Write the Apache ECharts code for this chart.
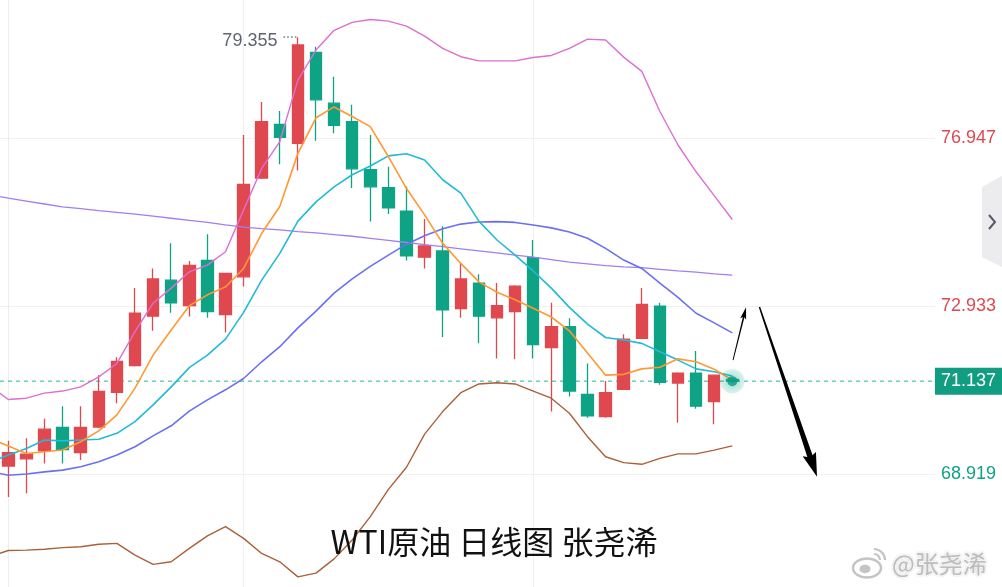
<!DOCTYPE html>
<html><head><meta charset="utf-8">
<script src="https://cdn.jsdelivr.net/npm/echarts@6/dist/echarts.min.js"></script>
<style>html,body{margin:0;padding:0;background:#fff}#c{width:1002px;height:587px}</style>
</head><body><div id="c"></div>
<script>
// ---- data (candle index 0..40; line arrays start at index -1) ----
const opens  = [69.11,69.28,69.47,70.03,69.43,70.04,70.87,71.51,72.69,73.55,72.94,74.02,72.73,73.63,75.99,77.27,76.82,78.99,77.78,77.34,76.19,75.76,75.20,74.10,74.25,72.87,73.48,72.65,72.80,74.09,71.94,72.44,70.82,70.29,70.94,72.16,72.93,71.09,71.33,70.65,71.18];
const closes = [69.43,69.39,69.99,69.50,70.03,70.89,71.61,72.76,73.58,73.01,73.90,72.80,73.71,75.84,77.34,76.96,79.17,77.86,77.25,76.21,75.78,75.28,74.13,74.37,72.84,73.58,72.69,72.94,73.41,72.01,72.44,70.90,70.31,70.86,72.14,72.97,71.11,71.33,70.54,71.28,71.137];
const lows   = [68.37,68.46,69.17,69.17,69.25,70.02,70.61,71.49,72.34,72.77,72.68,72.65,72.30,73.40,75.97,76.32,76.17,76.88,77.06,75.75,74.95,75.13,74.02,73.83,72.19,72.65,72.04,71.68,71.66,71.68,70.41,70.77,70.26,70.26,70.93,72.15,71.05,70.14,70.48,70.11,71.10];
const highs  = [69.71,69.77,70.24,70.54,70.54,71.28,71.71,73.36,73.83,74.43,74.01,74.65,73.73,77.02,77.81,77.59,79.355,79.13,78.41,77.74,77.02,76.26,75.79,75.01,74.84,73.97,73.69,73.48,73.43,74.51,73.01,72.64,71.56,71.14,72.26,73.36,73.01,71.35,71.86,71.29,71.22];

const ma5    = [69.76,69.59,69.41,69.45,69.49,69.69,69.95,70.33,70.97,71.76,72.36,72.94,73.20,73.39,73.83,74.67,75.31,76.58,77.43,77.69,77.46,77.22,76.50,75.74,75.11,74.43,73.95,73.51,73.26,73.08,72.88,72.67,72.34,71.81,71.28,71.30,71.43,71.47,71.67,71.60,71.42,71.16];
const ma10   = [69.20,69.37,69.53,69.73,69.71,69.73,69.75,69.89,70.17,70.57,71.00,71.46,71.76,72.14,72.78,73.55,74.19,74.96,75.42,75.78,76.07,76.28,76.52,76.57,76.42,75.95,75.63,74.96,74.51,74.15,73.77,73.36,72.90,72.50,72.18,72.12,72.04,71.84,71.64,71.43,71.36,71.26];
const ma20   = [68.98,68.89,68.92,68.97,69.01,69.09,69.21,69.37,69.57,69.83,70.07,70.42,70.69,70.93,71.20,71.60,71.96,72.41,72.81,73.24,73.58,73.88,74.15,74.41,74.61,74.78,74.89,74.94,74.95,74.93,74.87,74.80,74.70,74.55,74.31,74.03,73.83,73.48,73.14,72.76,72.53,72.29];
const ma60   = [75.59,75.51,75.44,75.37,75.30,75.26,75.21,75.17,75.13,75.08,75.03,74.98,74.93,74.87,74.82,74.78,74.75,74.71,74.68,74.64,74.60,74.55,74.50,74.45,74.40,74.35,74.30,74.25,74.20,74.15,74.10,74.04,73.98,73.94,73.90,73.87,73.85,73.81,73.77,73.74,73.70,73.67];
const bollUp = [71.02,70.70,70.73,70.85,70.90,71.00,71.24,71.56,72.32,73.00,73.36,73.75,73.91,74.23,75.23,76.22,76.86,78.33,79.05,79.52,79.71,79.78,79.74,79.62,79.38,79.09,78.89,78.79,78.79,78.79,78.87,78.92,79.09,79.31,79.29,78.88,78.54,77.58,76.78,76.14,75.57,75.00];
const bollDn = [66.95,67.09,67.10,67.12,67.16,67.18,67.24,67.26,66.98,66.76,66.82,67.14,67.44,67.66,67.38,67.02,66.82,66.46,66.55,66.89,67.34,67.90,68.55,69.08,69.87,70.41,70.86,71.07,71.10,71.07,70.90,70.73,70.37,69.81,69.33,69.19,69.15,69.29,69.40,69.40,69.49,69.59];

const yTickLabels = [76.947, 72.933, 68.919];
const xGridAt = [13, 29];
const lastPrice = 71.137;
const peakIndex = 16;
const titleText = 'WTI原油 日线图 张尧浠';
const watermarkText = '@张尧浠';
// hand-drawn arrows: [x1, y1, x2, y2] in data space
const arrows = [[40.04, 71.64, 40.76, 72.90], [41.50, 72.91, 44.68, 68.85]];

// ---- build ----
const candleData = opens.map((o, i) => [i, o, closes[i], lows[i], highs[i]]);
const toPairs = arr => arr.map((v, i) => [i - 1, v]);

const UP = '#e0484f', DOWN = '#0fa386', CUR = '#1fb592';
const xMin = -0.4586, xMax = 51.199, yMin = 66.218, yMax = 80.245;

function lineSeries(name, arr, color, width) {
  return { name, type: 'line', data: toPairs(arr), symbol: 'none', clip: true, silent: true,
    lineStyle: { color, width }, z: 3 };
}

const arrowStyles = [
  { w0: 0.9, w1: 1.6, hw: 6, hl: 10 },
  { w0: 1.4, w1: 5.5, hw: 14, hl: 22 }
];

const chart = echarts.init(document.getElementById('c'), null, { renderer: 'canvas' });
chart.setOption({
  animation: false,
  backgroundColor: '#ffffff',
  grid: { left: 0, right: 67, top: 0, bottom: 0, containLabel: false, outerBoundsMode: 'none' },
  xAxis: {
    type: 'value', min: xMin, max: xMax,
    axisLine: { show: false }, axisLabel: { show: false },
    axisTick: { show: false, customValues: xGridAt },
    splitLine: { show: true, lineStyle: { color: '#f1f1f3', width: 1 } }
  },
  yAxis: {
    type: 'value', position: 'right', min: yMin, max: yMax, scale: true,
    axisLine: { show: true, lineStyle: { color: '#ededed' } },
    axisTick: { show: false, customValues: yTickLabels },
    axisLabel: {
      customValues: yTickLabels, margin: 6, fontSize: 18, fontFamily: 'Liberation Sans',
      formatter: v => Number(v).toFixed(3),
      color: v => (Number(v) > lastPrice ? UP : DOWN)
    },
    splitLine: { show: true, lineStyle: { color: '#f1f1f1', width: 1 } }
  },
  series: [
    {
      type: 'candlestick', data: candleData, encode: { x: 0, y: [1, 2, 3, 4] },
      barWidth: 12, z: 2,
      itemStyle: { color: UP, color0: DOWN, borderColor: UP, borderColor0: DOWN, borderWidth: 1.3 },
      markLine: {
        silent: true, symbol: ['none', 'none'], animation: false,
        data: [
          [
            { coord: [peakIndex - 0.8, highs[peakIndex]],
              lineStyle: { color: '#7a7f8a', type: [1.6, 2.2], width: 1.6 },
              label: { show: true, position: 'start', distance: 6, formatter: highs[peakIndex].toFixed(3),
                color: '#60656f', fontSize: 18, fontFamily: 'Liberation Sans', offset: [0, 4] } },
            { coord: [peakIndex, highs[peakIndex]] }
          ]
        ]
      }
    },
    {
      name: 'last', type: 'line', data: [[xMin, lastPrice], [xMax, lastPrice]], symbol: 'none', silent: true, z: 2,
      lineStyle: { color: CUR, type: [4, 4], width: 1 },
      endLabel: { show: true, distance: 0, formatter: lastPrice.toFixed(3), color: '#fff',
        backgroundColor: '#119d82', padding: [5, 6, 4, 6], fontSize: 18, fontFamily: 'Liberation Sans' }
    },
    lineSeries('MA60', ma60, '#a07ff0', 1.3),
    lineSeries('BOLL-UP', bollUp, '#dc6fd2', 1.4),
    lineSeries('BOLL-DN', bollDn, '#a8613a', 1.4),
    lineSeries('MA20', ma20, '#6b70f2', 1.6),
    lineSeries('MA10', ma10, '#22bad6', 1.6),
    lineSeries('MA5', ma5, '#ff9933', 1.6),
    {
      type: 'scatter', data: [[closes.length - 1, lastPrice]], symbolSize: 24, z: 5, silent: true,
      itemStyle: { color: 'rgba(20,175,145,0.18)' }
    },
    {
      type: 'scatter', data: [[closes.length - 1, lastPrice]], symbolSize: 10, z: 6, silent: true,
      itemStyle: { color: '#0e9a80', shadowBlur: 10, shadowColor: 'rgba(20,175,145,0.9)' }
    },
    {
      type: 'custom', data: arrows, encode: { x: [0, 2], y: [1, 3] }, z: 7, silent: true, clip: false,
      renderItem: function (params, api) {
        const s = arrowStyles[params.dataIndex];
        const a = api.coord([api.value(0), api.value(1)]);
        const b = api.coord([api.value(2), api.value(3)]);
        const dx = b[0] - a[0], dy = b[1] - a[1], L = Math.hypot(dx, dy);
        const ux = dx / L, uy = dy / L, nx = -uy, ny = ux;
        const h = [b[0] - ux * s.hl, b[1] - uy * s.hl];
        const pts = [
          [a[0] + nx * s.w0 / 2, a[1] + ny * s.w0 / 2],
          [h[0] + nx * s.w1 / 2, h[1] + ny * s.w1 / 2],
          [h[0] - ux * 2 + nx * s.hw / 2, h[1] - uy * 2 + ny * s.hw / 2],
          b,
          [h[0] - ux * 2 - nx * s.hw / 2, h[1] - uy * 2 - ny * s.hw / 2],
          [h[0] - nx * s.w1 / 2, h[1] - ny * s.w1 / 2],
          [a[0] - nx * s.w0 / 2, a[1] - ny * s.w0 / 2]
        ];
        return { type: 'polygon', shape: { points: pts }, style: { fill: '#000' } };
      }
    }
  ],
  graphic: [
    { type: 'text', x: 494, y: 542, z: 100,
      style: { text: titleText, fill: '#111', font: '32px "Noto Sans CJK SC"', align: 'center', verticalAlign: 'middle' } },
    { type: 'polygon', z: 100, shape: { points: [[1002, 176], [982, 187], [982, 257], [1002, 267]] },
      style: { fill: '#ececef' } },
    { type: 'polyline', z: 101, shape: { points: [[989, 215], [995, 222], [989, 229]] },
      style: { stroke: '#555a66', lineWidth: 2, fill: null } },
    { type: 'group', z: 100, children: [
      { type: 'ellipse', shape: { cx: 867, cy: 568, rx: 14, ry: 9.5 }, style: { fill: 'rgba(255,255,255,0.6)', stroke: '#c4c4c4', lineWidth: 2.5 } },
      { type: 'ellipse', shape: { cx: 865, cy: 569, rx: 5.5, ry: 4.2 }, style: { fill: '#c4c4c4' } },
      { type: 'arc', shape: { cx: 874, cy: 560, r: 6, startAngle: -Math.PI / 2, endAngle: 0 }, style: { stroke: '#c4c4c4', lineWidth: 2.2, fill: null } },
      { type: 'arc', shape: { cx: 874, cy: 560, r: 11, startAngle: -Math.PI / 2, endAngle: 0 }, style: { stroke: '#c4c4c4', lineWidth: 2.2, fill: null } },
      { type: 'text', x: 892, y: 564,
        style: { text: watermarkText, fill: '#bdbdbd', font: '24px "Noto Sans CJK SC"', verticalAlign: 'middle',
          stroke: '#ffffff', lineWidth: 2, textShadowColor: 'rgba(0,0,0,0.15)', textShadowBlur: 2 } }
    ] }
  ]
});
</script>
</body></html>
